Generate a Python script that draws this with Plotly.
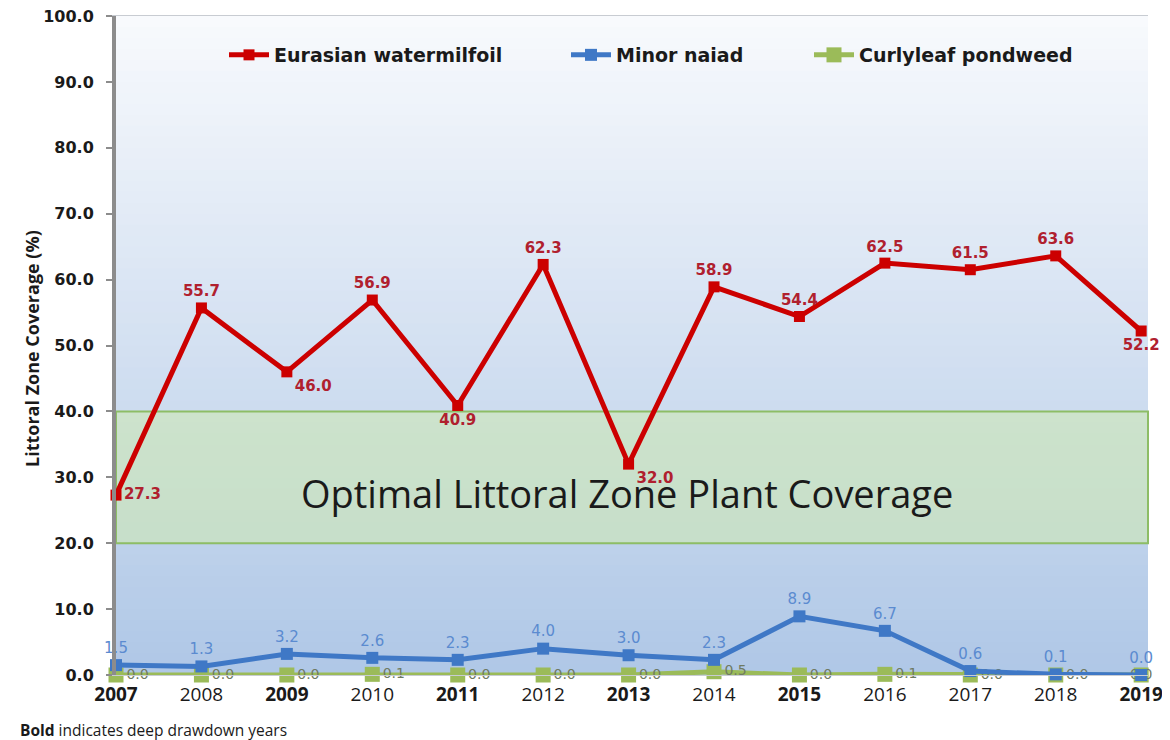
import plotly.graph_objects as go

years = [2007, 2008, 2009, 2010, 2011, 2012, 2013, 2014, 2015, 2016, 2017, 2018, 2019]
deep_drawdown = [2007, 2009, 2011, 2013, 2015, 2019]
eurasian = [27.3, 55.7, 46.0, 56.9, 40.9, 62.3, 32.0, 58.9, 54.4, 62.5, 61.5, 63.6, 52.2]
naiad = [1.5, 1.3, 3.2, 2.6, 2.3, 4.0, 3.0, 2.3, 8.9, 6.7, 0.6, 0.1, 0.0]
curlyleaf = [0.0, 0.0, 0.0, 0.1, 0.0, 0.0, 0.0, 0.5, 0.0, 0.1, 0.0, 0.0, 0.0]
y_ticks = [0, 10, 20, 30, 40, 50, 60, 70, 80, 90, 100]
optimal_low, optimal_high = 20, 40

eur_pos = ["middle right", "top center", "bottom right", "top center", "bottom center",
           "top center", "bottom right", "top center", "top center", "top center",
           "top center", "top center", "bottom center"]
curly_pos = ["middle right"] * 12 + ["middle center"]

LBL = "DejaVu Sans"
fig = go.Figure()

# page body offset (default 8px) compensation
OFF = 8
W, H = 1170 - OFF, 740 - OFF
ML, MR, MT, MB = 116 - OFF, 22, 16 - OFF, 65
PW = W - ML - MR
PH = H - MT - MB

# gradient background bands
n = 60
top = (248, 250, 253)
bot = (176, 200, 231)
for i in range(n):
    t = i / (n - 1)
    c = tuple(int(top[k] + (bot[k] - top[k]) * t) for k in range(3))
    fig.add_shape(type="rect", xref="paper", yref="paper", x0=0, x1=1,
                  y0=max(0, 1 - (i + 1.6) / n), y1=1 - i / n, layer="below",
                  line=dict(width=0), fillcolor="rgb(%d,%d,%d)" % c)

fig.add_shape(type="rect", xref="paper", yref="y", x0=0, x1=1,
              y0=optimal_low, y1=optimal_high, layer="below",
              line=dict(color="#8dbd66", width=2),
              fillcolor="rgba(205,232,180,0.6)")
fig.add_annotation(xref="paper", yref="y", x=0.495, y=27.6,
                   text="Optimal Littoral Zone Plant Coverage", showarrow=False,
                   font=dict(family="Open Sans", size=38, color="#1a1a1a"))

fig.add_trace(go.Scatter(
    x=years, y=curlyleaf, name="Curlyleaf pondweed", mode="lines+markers+text",
    line=dict(color="#9bbb59", width=5), marker=dict(symbol="square", size=15, color="#9bbb59"),
    text=["%.1f" % v for v in curlyleaf], textposition=curly_pos,
    textfont=dict(family=LBL, size=14, color="#6f7a62"), cliponaxis=False, legend="legend3"))
fig.add_trace(go.Scatter(
    x=years, y=naiad, name="Minor naiad", mode="lines+markers+text",
    line=dict(color="#3f78c6", width=5), marker=dict(symbol="square", size=12, color="#3f78c6"),
    text=["%.1f" % v for v in naiad], textposition="top center",
    textfont=dict(family=LBL, size=15, color="#5b8bd0"), cliponaxis=False, legend="legend2"))
fig.add_trace(go.Scatter(
    x=years, y=eurasian, name="Eurasian watermilfoil", mode="lines+markers+text",
    line=dict(color="#cc0000", width=5), marker=dict(symbol="square", size=11, color="#cc0000"),
    text=["%.1f" % v for v in eurasian], textposition=eur_pos,
    textfont=dict(family=LBL, size=15, color="#b0202e", weight="bold"), cliponaxis=False,
    legend="legend"))

def px_x(xp):
    return (xp - OFF - ML) / PW

def px_y(yp):
    return (H - MB - (yp - OFF)) / PH

legfont = dict(family=LBL, size=19, color="#1a1a1a", weight="bold")
common = dict(orientation="h", yanchor="middle", xanchor="left", bgcolor="rgba(0,0,0,0)",
              font=legfont, itemwidth=40)
fig.update_layout(
    legend=dict(x=px_x(224), y=px_y(55), **common),
    legend2=dict(x=px_x(566), y=px_y(55), **common),
    legend3=dict(x=px_x(809), y=px_y(55), **common),
)

ticktext = [("<b>%d</b>" % y) if y in deep_drawdown else str(y) for y in years]
fig.update_xaxes(range=[2007, 2019.08], tickvals=years, ticktext=ticktext,
                 tickfont=dict(family="Open Sans", size=19, color="#1a1a1a"),
                 showgrid=False, zeroline=False, showline=True, linecolor="#c8ccd2",
                 linewidth=1, mirror=True, ticks="", ticklabelstandoff=2, automargin=False,
                 ticklabeloverflow="allow")
fig.update_yaxes(range=[0, 100], tickvals=y_ticks, tickformat=".1f",
                 tickfont=dict(family=LBL, size=16, color="#1a1a1a", weight="bold"),
                 showgrid=False, zeroline=False, showline=True, linecolor="#8c8c8c",
                 linewidth=4, ticks="outside", ticklen=6, tickwidth=2, tickcolor="#8c8c8c",
                 ticklabelstandoff=9, automargin=False, ticklabeloverflow="allow")
fig.add_annotation(xref="paper", yref="paper", x=px_x(18), y=px_y(349),
                   text="<b>Littoral Zone Coverage (%)</b>", textangle=-90, showarrow=False,
                   font=dict(family="Open Sans", size=18, color="#1a1a1a"))
fig.add_annotation(xref="paper", yref="paper", x=px_x(18), y=px_y(730),
                   xanchor="left", yanchor="middle",
                   text="<b>Bold</b> indicates deep drawdown years", showarrow=False,
                   font=dict(family="Open Sans", size=15.5, color="#1a1a1a"))

fig.update_layout(width=W, height=H, margin=dict(l=ML, r=MR, t=MT, b=MB),
                  paper_bgcolor="white", plot_bgcolor="white", showlegend=True)
fig.write_html("out.html")
